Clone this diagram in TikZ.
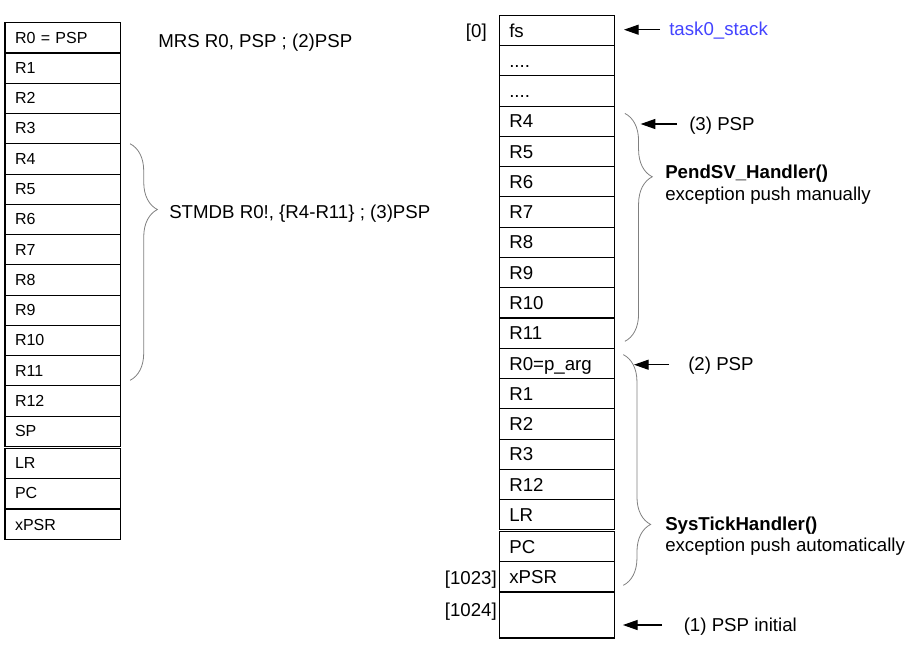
\documentclass[tikz,border=0pt]{standalone}
\usepackage{fontspec}
\setmainfont{Liberation Sans}
\usetikzlibrary{arrows.meta,positioning,decorations.pathreplacing}
\definecolor{stackblue}{RGB}{68,68,255}

\begin{document}
\begin{tikzpicture}[x=0.75pt,y=-0.75pt,>={Triangle[length=11pt,width=7.5pt]},
  reg node/.style={rectangle,draw,line width=0.8pt,outer sep=0pt,
  text width=71.5pt,inner xsep=7.5pt,inner ysep=0pt,minimum height=22.7pt,
  align=left,text height=9pt,text depth=1pt,font=\fontsize{12}{14}\selectfont},
  stack node/.style={reg node,text height=11pt,font=\fontsize{14}{16}\selectfont},
  note/.style={inner sep=0pt,anchor=base west,text height=10pt,text depth=1pt,
  font=\fontsize{14}{16}\selectfont},
  ptr/.style={->,line width=0.8pt},
  grp brace/.style={draw=gray,line width=0.6pt,decorate,
  decoration={brace,amplitude=20.5pt,aspect=#1}}]

  \useasboundingbox (0,0) rectangle (912,644);

  %Registers of the core%
  \node[reg node,anchor=north west] (R0) at (5,22.7) {R0 = PSP};
  \node[reg node] (R1) [below=0pt of R0] {R1};
  \node[reg node] (R2) [below=0pt of R1] {R2};
  \node[reg node] (R3) [below=0pt of R2] {R3};
  \node[reg node] (R4) [below=0pt of R3] {R4};
  \node[reg node] (R5) [below=0pt of R4] {R5};
  \node[reg node] (R6) [below=0pt of R5] {R6};
  \node[reg node] (R7) [below=0pt of R6] {R7};
  \node[reg node] (R8) [below=0pt of R7] {R8};
  \node[reg node] (R9) [below=0pt of R8] {R9};
  \node[reg node] (R10) [below=0pt of R9] {R10};
  \node[reg node] (R11) [below=0pt of R10] {R11};
  \node[reg node] (R12) [below=0pt of R11] {R12};
  \node[reg node] (SP) [below=0pt of R12] {SP};
  \node[reg node] (LR) [below=1.2pt of SP] {LR};
  \node[reg node] (PC) [below=0pt of LR] {PC};
  \node[reg node] (XPSR) [below=0.8pt of PC] {xPSR};

  %Stack of task0%
  \node[stack node,anchor=north west] (FS) at (499.3,15.3) {fs};
  \node[stack node] (DA) [below=0pt of FS] {....};
  \node[stack node] (DB) [below=0pt of DA] {....};
  \node[stack node] (SR4) [below=0pt of DB] {R4};
  \node[stack node] (SR5) [below=0pt of SR4] {R5};
  \node[stack node] (SR6) [below=0pt of SR5] {R6};
  \node[stack node] (SR7) [below=0pt of SR6] {R7};
  \node[stack node] (SR8) [below=0pt of SR7] {R8};
  \node[stack node] (SR9) [below=0pt of SR8] {R9};
  \node[stack node] (SR10) [below=0pt of SR9] {R10};
  \node[stack node] (SR11) [below=0pt of SR10] {R11};
  \node[stack node] (SR0) [below=0pt of SR11] {R0=p\_arg};
  \node[stack node] (SR1) [below=0pt of SR0] {R1};
  \node[stack node] (SR2) [below=0pt of SR1] {R2};
  \node[stack node] (SR3) [below=0pt of SR2] {R3};
  \node[stack node] (SR12) [below=0pt of SR3] {R12};
  \node[stack node] (SLR) [below=0pt of SR12] {LR};
  \node[stack node] (SPC) [below=1.2pt of SLR] {PC};
  \node[stack node] (SXPSR) [below=0pt of SPC] {xPSR};
  \node[stack node,minimum height=34.5pt] (SEND) [below=0pt of SXPSR] {};

  %Indexes of the stack%
  \node[note,anchor=base east] (I0) at (487,37.3) {[0]};
  \node[note,anchor=base east] (I1023) at (497,584) {[1023]};
  \node[note,anchor=base east] (I1024) at (497,616.7) {[1024]};

  %Texts%
  \node[note] (MRS) at (158,47.7) {MRS R0, PSP ; (2)PSP};
  \node[note] (STM) at (169,218.3) {STMDB R0!, \{R4-R11\} ; (3)PSP};
  \node[note] (T0) at (669,35.7) {\textcolor{stackblue}{task0\_stack}};
  \node[note] (P3) at (689,130) {(3) PSP};
  \node[note] (PSV) at (665,178.3) {\textbf{PendSV\_Handler()}};
  \node[note] (PSVd) at (665,200) {exception push manually};
  \node[note] (P2) at (688,370.7) {(2) PSP};
  \node[note] (STH) at (665,530) {\textbf{SysTickHandler()}};
  \node[note] (STHd) at (665,551) {exception push automatically};
  \node[note] (P1) at (683.5,631) {(1) PSP initial};

  %Braces%
  \draw[grp brace=0.278] ([xshift=7.3pt]R4.north east)
    -- ([xshift=7.3pt,yshift=4.2pt]R11.south east);
  \draw[grp brace=0.278] ([xshift=7.7pt,yshift=-5.5pt]SR4.north east)
    -- ([xshift=7.7pt,yshift=5.2pt]SR11.south east);
  \draw[grp brace=0.736] ([xshift=6.5pt,yshift=-4.8pt]SR0.north east)
    -- ([xshift=6.5pt,yshift=5pt]SXPSR.south east);

  \path[ptr]
    %Stack name%
    (T0.west) edge [shorten <=6.75pt,shorten >=7pt] (T0.west -| FS.east)
    %PSP steps%
    (P3.west) edge [shorten <=9pt,shorten >=19.5pt] (P3.west -| SR4.east)
    (P2.west) edge [shorten <=14.25pt,shorten >=14.5pt] (P2.west -| SR0.east)
    (P1.west) edge [shorten <=16pt,shorten >=6.2pt] (P1.west -| SEND.east);

\end{tikzpicture}
\end{document}
